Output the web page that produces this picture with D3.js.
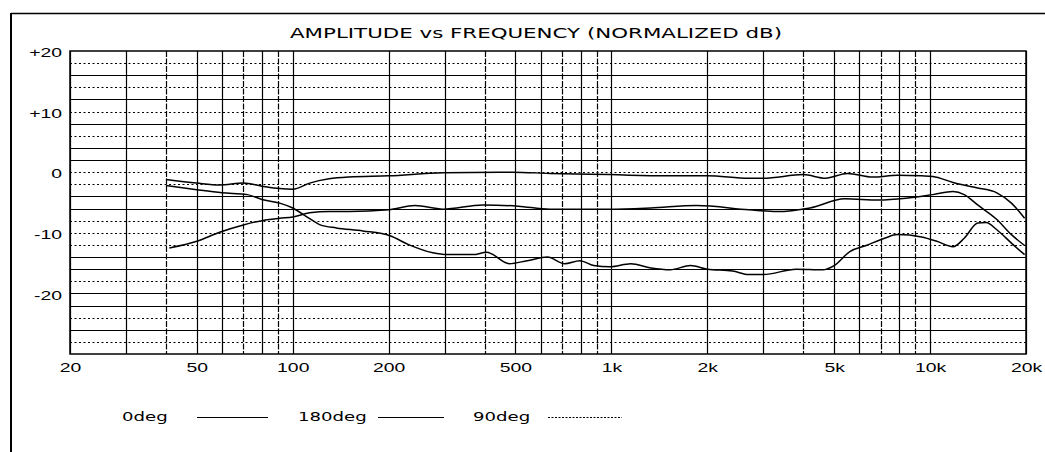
<!DOCTYPE html>
<html>
<head>
<meta charset="utf-8">
<script src="https://cdn.jsdelivr.net/npm/d3@7"></script>
<style>
  body { margin: 0; background: #fff; }
  svg { display: block; font-family: "DejaVu Sans", Verdana, sans-serif; }
  .axis text { fill: #000; font-size: 12.5px; }
</style>
</head>
<body>
<div id="chart"></div>
<script>
// tick labels
var freqTicks = [20, 50, 100, 200, 500, 1000, 2000, 5000, 10000, 20000];
var freqLabels = ["20", "50", "100", "200", "500", "1k", "2k", "5k", "10k", "20k"];
var dbTicks = [20, 10, 0, -10, -20];
var dbLabels = ["+20", "+10", "0", "-10", "-20"];

// 0deg
var freq0 = [40, 50, 59, 70, 80, 91, 100, 113, 130, 150, 200, 296, 490, 640, 990, 1480, 2000, 2700, 3000, 4000, 4700, 5500, 6600, 7900, 9400, 10200, 11800, 14100, 16200, 18000, 19800];
var db0 = [-1.2, -1.8, -2.1, -1.8, -2.3, -2.7, -2.8, -1.8, -1.1, -0.8, -0.6, -0.1, 0, -0.2, -0.4, -0.6, -0.6, -1.0, -1.0, -0.4, -1.0, -0.2, -0.8, -0.5, -0.6, -0.7, -1.7, -2.6, -3.4, -5.1, -7.6];

// 180deg
var freq180 = [40, 50, 60, 72, 80, 91, 100, 111, 122, 137, 166, 202, 232, 275, 304, 368, 406, 478, 544, 630, 713, 796, 880, 990, 1150, 1330, 1530, 1770, 2000, 2400, 2700, 3000, 3800, 4600, 5000, 5600, 6300, 7200, 7900, 9400, 10500, 11800, 12800, 14100, 15000, 16200, 18000, 19800];
var db180 = [-2.2, -2.9, -3.4, -3.7, -4.5, -5.1, -5.9, -7.4, -8.7, -9.2, -9.7, -10.5, -12.0, -13.3, -13.6, -13.6, -13.2, -15.1, -14.6, -14.0, -15.1, -14.6, -15.4, -15.6, -15.1, -15.8, -16.1, -15.4, -16.0, -16.3, -16.9, -16.9, -16.0, -16.1, -15.4, -13.1, -12.1, -10.9, -10.3, -10.7, -11.4, -12.3, -10.9, -8.4, -8.3, -9.5, -11.7, -13.6];

// 90deg
var freq90 = [41, 50, 59, 70, 80, 91, 100, 113, 130, 150, 200, 242, 296, 395, 510, 640, 990, 1330, 1850, 2700, 3300, 4200, 5400, 6900, 8400, 10200, 11800, 12800, 14100, 16200, 18000, 19800];
var db90 = [-12.5, -11.4, -9.9, -8.7, -8.0, -7.6, -7.4, -6.7, -6.5, -6.5, -6.2, -5.5, -6.1, -5.4, -5.6, -6.1, -6.1, -5.9, -5.5, -6.2, -6.5, -5.9, -4.4, -4.6, -4.3, -3.7, -3.2, -3.7, -5.4, -7.8, -10.3, -12.1];

var seriesNames = ["0deg", "180deg", "90deg"];

var W = 1045, H = 452;
var plotL = 70, plotR = 1026, plotT = 51, plotB = 354;
var sx = 1.55; // text in the scan is stretched sideways

var svg = d3.select("#chart").append("svg")
    .attr("width", W)
    .attr("height", H);

svg.append("rect").attr("width", W).attr("height", H).attr("fill", "#fff");

var x = d3.scaleLog().domain([20, 20000]).range([plotL, plotR]);
var y = d3.scaleLinear().domain([-30, 20]).range([plotB, plotT]);

// outer frame
svg.append("line").attr("x1", 11).attr("x2", W).attr("y1", 13.5).attr("y2", 13.5)
    .attr("stroke", "#000").attr("stroke-width", 1.5);
svg.append("line").attr("x1", 11).attr("x2", 11).attr("y1", 13).attr("y2", H)
    .attr("stroke", "#000").attr("stroke-width", 2);

// grid
var gridFreqs = [];
[10, 100, 1000].forEach(function (dec) {
    for (var k = 1; k < 10; k++) {
        var f = dec * k;
        if (f >= 20) gridFreqs.push(f);
    }
});
gridFreqs.push(10000, 20000);

var dottedLevels = [18, 14, 10, 6, 0, -2, -8, -10, -12, -18, -24, -28];
var levels = d3.range(-28, 20, 2);

var grid = svg.append("g");
grid.selectAll(".hg").data(levels).enter().append("line")
    .attr("x1", plotL).attr("x2", plotR)
    .attr("y1", function (d) { return Math.round(y(d)) + 0.5; })
    .attr("y2", function (d) { return Math.round(y(d)) + 0.5; })
    .attr("stroke", "#000")
    .attr("stroke-width", function (d) { return dottedLevels.indexOf(d) >= 0 ? 1 : 1.2; })
    .attr("stroke-dasharray", function (d) { return dottedLevels.indexOf(d) >= 0 ? "2,2.5" : null; });

grid.selectAll(".vg").data(gridFreqs).enter().append("line")
    .attr("y1", plotT).attr("y2", plotB)
    .attr("x1", function (d) { return Math.round(x(d)) + 0.5; })
    .attr("x2", function (d) { return Math.round(x(d)) + 0.5; })
    .attr("stroke", "#000")
    .attr("stroke-width", 1.2)
    .attr("stroke-dasharray", function (d) {
        var m = Math.round(d / Math.pow(10, Math.floor(Math.log10(d))));
        return (m === 4 || m === 7 || m === 9) ? "6,1.5" : null;
    });

svg.append("rect")
    .attr("x", plotL).attr("y", plotT)
    .attr("width", plotR - plotL).attr("height", plotB - plotT)
    .attr("fill", "none").attr("stroke", "#000").attr("stroke-width", 1.5);

// axes
var xAxis = d3.axisBottom(x).tickValues(freqTicks)
    .tickFormat(function (d, i) { return freqLabels[i]; })
    .tickSize(0);
var gx = svg.append("g").attr("class", "axis")
    .attr("transform", "translate(0," + plotB + ")")
    .call(xAxis);
gx.select(".domain").remove();
gx.selectAll("text").attr("y", 18).attr("dy", null)
    .attr("transform", "scale(" + sx + ",1)");

var yAxis = d3.axisLeft(y).tickValues(dbTicks)
    .tickFormat(function (d, i) { return dbLabels[i]; })
    .tickSize(0);
var gy = svg.append("g").attr("class", "axis")
    .attr("transform", "translate(" + plotL + ",0)")
    .call(yAxis);
gy.select(".domain").remove();
gy.selectAll("text").attr("x", -8 / sx).attr("dy", "0.45em")
    .attr("transform", "scale(" + sx + ",1)");

// title
svg.append("text")
    .attr("transform", "translate(536,38) scale(1.56,1)")
    .attr("text-anchor", "middle")
    .attr("font-size", 13.7)
    .attr("fill", "#000")
    .text("AMPLITUDE vs FREQUENCY (NORMALIZED dB)");

// curves
var line = d3.line()
    .x(function (d) { return x(d[0]); })
    .y(function (d) { return y(d[1]); })
    .curve(d3.curveMonotoneX);

var series = [d3.zip(freq0, db0), d3.zip(freq180, db180), d3.zip(freq90, db90)];
svg.append("g").selectAll("path").data(series).enter().append("path")
    .attr("d", line)
    .attr("fill", "none")
    .attr("stroke", "#000")
    .attr("stroke-width", 1.5);

// legend
var legTextX = [122, 298, 473];
var legLine = [[197, 268], [378, 444], [548, 622]];
var legDash = [null, null, "2,1.5"];
var leg = svg.append("g");
seriesNames.forEach(function (n, i) {
    leg.append("text")
        .attr("transform", "translate(" + legTextX[i] + ",421) scale(1.45,1)")
        .attr("font-size", 12.5)
        .attr("fill", "#000")
        .text(n);
    leg.append("line")
        .attr("x1", legLine[i][0]).attr("x2", legLine[i][1])
        .attr("y1", 417.5).attr("y2", 417.5)
        .attr("stroke", "#000")
        .attr("stroke-width", 1)
        .attr("stroke-dasharray", legDash[i]);
});
</script>
</body>
</html>
